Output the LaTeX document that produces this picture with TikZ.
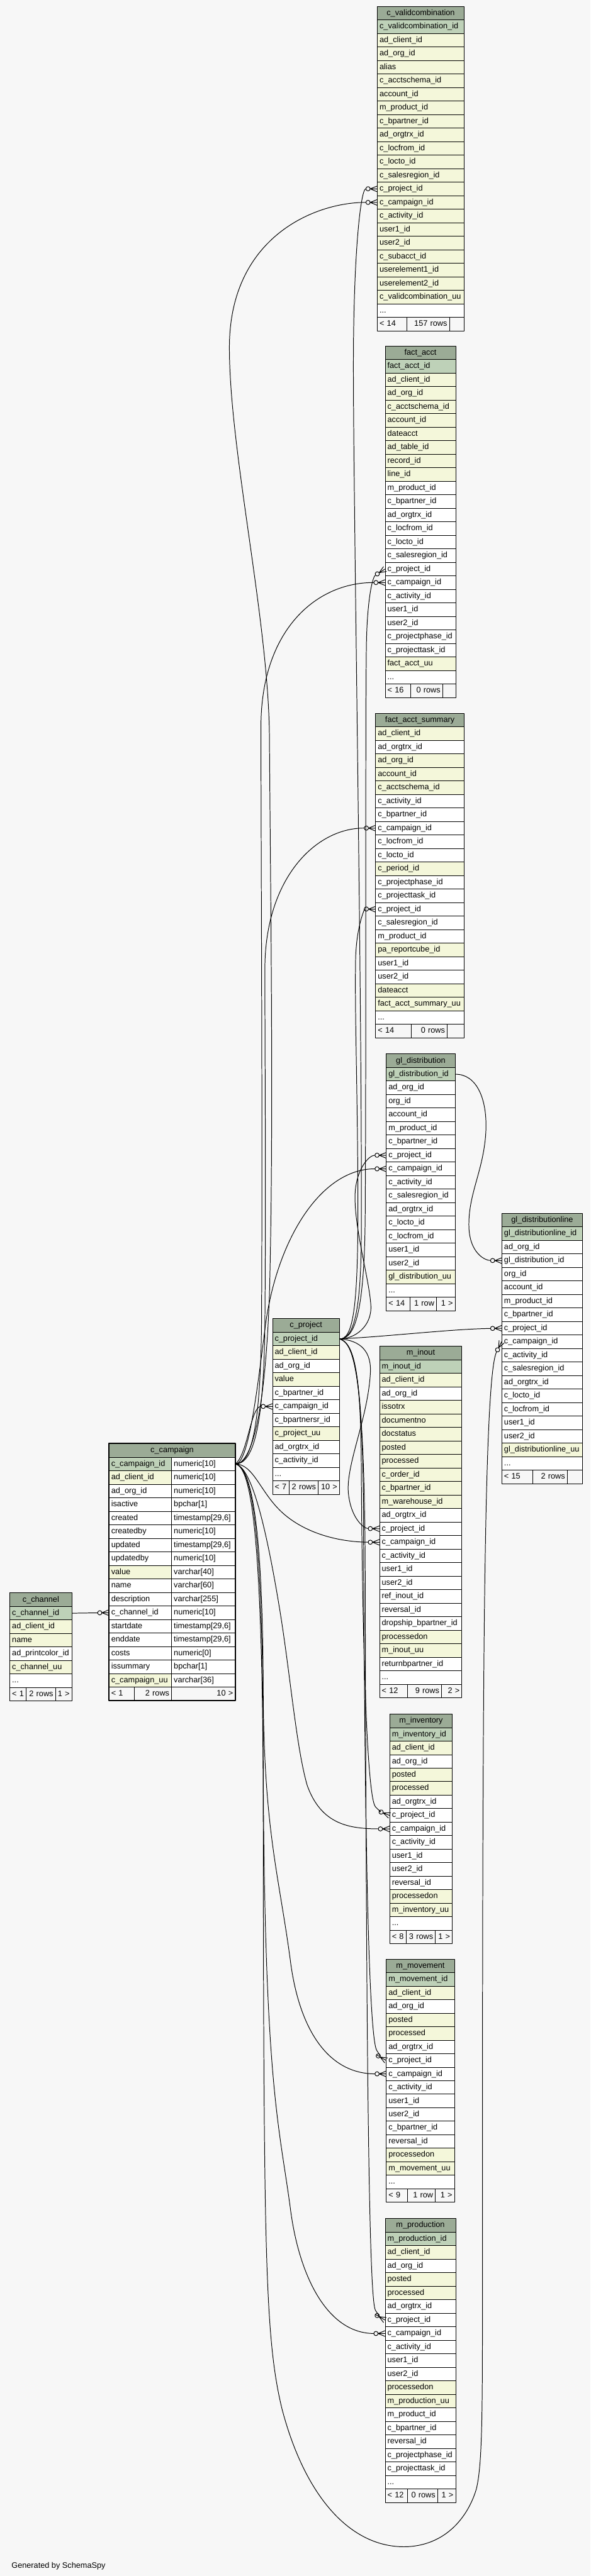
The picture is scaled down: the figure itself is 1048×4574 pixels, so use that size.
\documentclass[tikz,border=0pt]{standalone}
\usepackage{fontspec}
\setmainfont{Liberation Sans}
\usetikzlibrary{arrows.meta}
\definecolor{hdr}{HTML}{9BAB96}
\definecolor{pk}{HTML}{BED1B8}
\definecolor{nn}{HTML}{F4F7DA}
\definecolor{bgc}{HTML}{F7F7F7}

% zero-or-many end: open circle and crow's foot
\pgfdeclarearrow{
  name = crowodot,
  setup code = {
    \pgfarrowssettipend{0pt}
    \pgfarrowssetbackend{-20pt}
    \pgfarrowssetlineend{-19.8pt}
    \pgfarrowshullpoint{0pt}{5pt}
    \pgfarrowshullpoint{0pt}{-5pt}
    \pgfarrowshullpoint{-20pt}{4pt}
    \pgfarrowshullpoint{-20pt}{-4pt}
  },
  drawing code = {
    \pgfpathcircle{\pgfpoint{-16pt}{0pt}}{3.8pt}
    \pgfusepathqstroke
    \pgfpathmoveto{\pgfpoint{-12.2pt}{0pt}}
    \pgfpathlineto{\pgfpoint{0pt}{5pt}}
    \pgfpathmoveto{\pgfpoint{-12.2pt}{0pt}}
    \pgfpathlineto{\pgfpoint{0pt}{0pt}}
    \pgfpathmoveto{\pgfpoint{-12.2pt}{0pt}}
    \pgfpathlineto{\pgfpoint{0pt}{-5pt}}
    \pgfusepathqstroke
  }
}

\newcommand{\dbdots}{...}
% one table: id, title, left, top, width, rows (fill/text)
\newcommand{\dbtable}[6]{%
  \pgfmathsetmacro{\dbtw}{#5-8}%
  \node[thead, minimum width=#5pt] (#1) at (#3,#4) {#2};
  \foreach \rc/\rt [count=\ri] in {#6}{%
    \node[trow, fill=\rc, text width=\dbtw pt] (#1-\ri) at (#3,{#4+24*\ri}) {\rt};
    \xdef\dbn{\ri}}%
}
% footer row: id, left, top, three cell widths, three texts
\newcommand{\dbfoot}[9]{%
  \pgfmathsetmacro{\dbfy}{#3+24*(\dbn+1)}%
  \pgfmathsetmacro{\dbfa}{#4-8}\pgfmathsetmacro{\dbfb}{#5-8}\pgfmathsetmacro{\dbfc}{#6-8}%
  \node[tfoot, text width=\dbfa pt] (#1-f1) at (#2,\dbfy) {#7};
  \node[tfoot, text width=\dbfb pt, align=right] (#1-f2) at ({#2+#4},\dbfy) {#8};
  \node[tfoot, text width=\dbfc pt, align=right] (#1-f3) at ({#2+#4+#5},\dbfy) {#9};
}

\begin{document}
\catcode`\_=12
\begin{tikzpicture}[
  x=1pt, y=-1pt, font=\fontsize{14.2}{17}\selectfont,
  line cap=round, line join=round,
  thead/.style={draw=black, line width=0.9pt, fill=hdr, anchor=north west,
                minimum height=24pt, inner sep=0pt, text height=10.5pt, text depth=3pt},
  trow/.style={draw=black, line width=0.9pt, anchor=north west, minimum height=24pt,
               inner xsep=4pt, inner ysep=0pt, align=left, text height=10.5pt, text depth=3pt},
  tfoot/.style={trow, fill=bgc},
  fk/.style={draw=black, line width=1.1pt, -{crowodot[]}},
]
\useasboundingbox (0,0) rectangle (1048,4574);
\fill[bgc] (0,0) rectangle (1048,4574);

% tables
\dbtable{vc}{c_validcombination}{669}{11}{154}{pk/c_validcombination_id, nn/ad_client_id, nn/ad_org_id,
  nn/alias, nn/c_acctschema_id, nn/account_id, nn/m_product_id, nn/c_bpartner_id, nn/ad_orgtrx_id,
  nn/c_locfrom_id, nn/c_locto_id, nn/c_salesregion_id, nn/c_project_id, nn/c_campaign_id,
  nn/c_activity_id, nn/user1_id, nn/user2_id, nn/c_subacct_id, nn/userelement1_id,
  nn/userelement2_id, nn/c_validcombination_uu, white/\dbdots}
\dbfoot{vc}{669}{11}{52}{76}{26}{< 14}{157 rows}{}

\dbtable{fa}{fact_acct}{683}{614}{125}{pk/fact_acct_id, nn/ad_client_id, nn/ad_org_id,
  nn/c_acctschema_id, nn/account_id, nn/dateacct, nn/ad_table_id, nn/record_id, nn/line_id,
  white/m_product_id, white/c_bpartner_id, white/ad_orgtrx_id, white/c_locfrom_id, white/c_locto_id,
  white/c_salesregion_id, white/c_project_id, white/c_campaign_id, white/c_activity_id,
  white/user1_id, white/user2_id, white/c_projectphase_id, white/c_projecttask_id,
  nn/fact_acct_uu, white/\dbdots}
\dbfoot{fa}{683}{614}{45}{57}{23}{< 16}{0 rows}{}

\dbtable{fas}{fact_acct_summary}{666}{1266}{157}{nn/ad_client_id, white/ad_orgtrx_id, nn/ad_org_id,
  nn/account_id, nn/c_acctschema_id, white/c_activity_id, white/c_bpartner_id, white/c_campaign_id,
  white/c_locfrom_id, white/c_locto_id, nn/c_period_id, white/c_projectphase_id,
  white/c_projecttask_id, white/c_project_id, white/c_salesregion_id, white/m_product_id,
  nn/pa_reportcube_id, white/user1_id, white/user2_id, nn/dateacct, nn/fact_acct_summary_uu, white/\dbdots}
\dbfoot{fas}{666}{1266}{63}{64}{30}{< 14}{0 rows}{}

\dbtable{gd}{gl_distribution}{685}{1871}{122}{pk/gl_distribution_id, white/ad_org_id, white/org_id,
  white/account_id, white/m_product_id, white/c_bpartner_id, white/c_project_id, white/c_campaign_id,
  white/c_activity_id, white/c_salesregion_id, white/ad_orgtrx_id, white/c_locto_id,
  white/c_locfrom_id, white/user1_id, white/user2_id, nn/gl_distribution_uu, white/\dbdots}
\dbfoot{gd}{685}{1871}{42}{47}{33}{< 14}{1 row}{1 >}

\dbtable{gdl}{gl_distributionline}{890}{2154}{143}{pk/gl_distributionline_id, white/ad_org_id,
  white/gl_distribution_id, white/org_id, white/account_id, white/m_product_id, white/c_bpartner_id,
  white/c_project_id, white/c_campaign_id, white/c_activity_id, white/c_salesregion_id,
  white/ad_orgtrx_id, white/c_locto_id, white/c_locfrom_id, white/user1_id, white/user2_id,
  nn/gl_distributionline_uu, white/\dbdots}
\dbfoot{gdl}{890}{2154}{55}{61}{27}{< 15}{2 rows}{}

\dbtable{pj}{c_project}{483}{2341}{119}{pk/c_project_id, nn/ad_client_id, white/ad_org_id, nn/value,
  white/c_bpartner_id, white/c_campaign_id, white/c_bpartnersr_id, nn/c_project_uu,
  white/ad_orgtrx_id, white/c_activity_id, white/\dbdots}
\dbfoot{pj}{483}{2341}{30}{51}{38}{< 7}{2 rows}{10 >}

\dbtable{io}{m_inout}{673}{2390}{146}{pk/m_inout_id, nn/ad_client_id, white/ad_org_id, nn/issotrx,
  nn/documentno, nn/docstatus, nn/posted, nn/processed, nn/c_order_id, nn/c_bpartner_id,
  nn/m_warehouse_id, white/ad_orgtrx_id, white/c_project_id, white/c_campaign_id, white/c_activity_id,
  white/user1_id, white/user2_id, white/ref_inout_id, white/reversal_id, white/dropship_bpartner_id,
  nn/processedon, nn/m_inout_uu, white/returnbpartner_id, white/\dbdots}
\dbfoot{io}{673}{2390}{50}{60}{36}{< 12}{9 rows}{2 >}

\dbtable{inv}{m_inventory}{691}{3043}{111}{pk/m_inventory_id, nn/ad_client_id, white/ad_org_id,
  nn/posted, nn/processed, white/ad_orgtrx_id, white/c_project_id, white/c_campaign_id,
  white/c_activity_id, white/user1_id, white/user2_id, white/reversal_id, nn/processedon,
  nn/m_inventory_uu, white/\dbdots}
\dbfoot{inv}{691}{3043}{29}{52}{30}{< 8}{3 rows}{1 >}

\dbtable{mov}{m_movement}{685}{3478}{121}{pk/m_movement_id, nn/ad_client_id, white/ad_org_id,
  nn/posted, nn/processed, white/ad_orgtrx_id, white/c_project_id, white/c_campaign_id,
  white/c_activity_id, white/user1_id, white/user2_id, white/c_bpartner_id, white/reversal_id,
  nn/processedon, nn/m_movement_uu, white/\dbdots}
\dbfoot{mov}{685}{3478}{38}{49}{34}{< 9}{1 row}{1 >}

\dbtable{prd}{m_production}{683}{3939}{125}{pk/m_production_id, nn/ad_client_id, white/ad_org_id,
  nn/posted, nn/processed, white/ad_orgtrx_id, white/c_project_id, white/c_campaign_id,
  white/c_activity_id, white/user1_id, white/user2_id, nn/processedon, nn/m_production_uu,
  white/m_product_id, white/c_bpartner_id, white/reversal_id, white/c_projectphase_id,
  white/c_projecttask_id, white/\dbdots}
\dbfoot{prd}{683}{3939}{40}{53}{32}{< 12}{0 rows}{1 >}

\dbtable{ch}{c_channel}{17}{2828}{110}{pk/c_channel_id, nn/ad_client_id, nn/name,
  white/ad_printcolor_id, nn/c_channel_uu, white/\dbdots}
\dbfoot{ch}{17}{2828}{29}{52}{29}{< 1}{2 rows}{1 >}

% c_campaign: names and types
\node[thead, minimum width=224pt] (cp) at (193,2563) {c_campaign};
\foreach \rc/\rt/\ty [count=\ri] in {pk/c_campaign_id/numeric[10], nn/ad_client_id/numeric[10],
  white/ad_org_id/numeric[10], white/isactive/bpchar[1], white/created/{timestamp[29,6]},
  white/createdby/numeric[10], white/updated/{timestamp[29,6]}, white/updatedby/numeric[10],
  nn/value/varchar[40], white/name/varchar[60], white/description/varchar[255],
  white/c_channel_id/numeric[10], white/startdate/{timestamp[29,6]}, white/enddate/{timestamp[29,6]},
  white/costs/numeric[0], white/issummary/bpchar[1], nn/c_campaign_uu/varchar[36]}{%
  \node[trow, fill=\rc, text width=103pt] (cpn-\ri) at (193,{2563+24*\ri}) {\rt};
  \node[trow, fill=white, text width=105pt] (cpt-\ri) at (304,{2563+24*\ri}) {\ty};
  \xdef\dbn{\ri}}
\dbfoot{cp}{193}{2563}{45}{66}{113}{< 1}{2 rows}{10 >}
\draw[line width=2.5pt] (cp.north west) rectangle (cp-f3.south east);

\node[anchor=base west] (gen) at (17,4560) {Generated by SchemaSpy};

% c_campaign.c_campaign_id
\draw[fk] (cpt-1.east) .. controls (445,2599) and (470,2520) .. (478,2300)
  .. controls (486,2000) and (480,1600) .. (478,1306)
  .. controls (476,1100) and (407,800) .. (407,617)
  .. controls (407,420) and (560,359) .. (vc-14.west);
\draw[fk] (cpt-1.east) .. controls (445,2599) and (462,2540) .. (464,2350)
  .. controls (466,2000) and (463,1500) .. (463,1290)
  .. controls (463,1120) and (560,1034) .. (fa-17.west);
\draw[fk] (cpt-1.east) .. controls (448,2599) and (468,2540) .. (470,2350)
  .. controls (472,2100) and (470,1900) .. (470,1720)
  .. controls (470,1560) and (560,1470) .. (fas-8.west);
\draw[fk] (cpt-1.east) .. controls (440,2599) and (455,2480) .. (470,2360)
  .. controls (490,2200) and (570,2075) .. (gd-8.west);
\draw[fk] (cpt-1.east) .. controls (440,2580) and (445,2497) .. (pj-6.west);
\draw[fk] (cpt-1.east) .. controls (450,2600) and (462,2650) .. (500,2685)
  .. controls (540,2722) and (600,2738) .. (io-14.west);
\draw[fk] (cpt-1.east) .. controls (445,2605) and (470,2700) .. (495,2850)
  .. controls (515,2970) and (525,3100) .. (545,3170)
  .. controls (570,3240) and (620,3247) .. (inv-8.west);
\draw[fk] (cpt-1.east) .. controls (445,2605) and (466,2700) .. (467,3000)
  .. controls (468,3250) and (495,3330) .. (515,3480)
  .. controls (530,3600) and (580,3682) .. (mov-8.west);
\draw[fk] (cpt-1.east) .. controls (445,2605) and (466,2700) .. (467,3100)
  .. controls (468,3700) and (495,3770) .. (515,3920)
  .. controls (530,4040) and (580,4143) .. (prd-8.west);
\draw[fk] (cpt-1.east) .. controls (443,2605) and (466,2700) .. (467,3200)
  .. controls (468,4000) and (470,4150) .. (500,4276)
  .. controls (540,4430) and (620,4524) .. (720,4522)
  .. controls (790,4520) and (830,4470) .. (845,4420)
  .. controls (855,4380) and (856,4300) .. (856,4100)
  .. controls (856,3100) and (856,2450) .. (gdl-9.west);

% c_project.c_project_id
\draw[fk] (pj-1.east) .. controls (625,2377) and (640,2340) .. (641,2200)
  .. controls (643,1800) and (627,900) .. (627,650)
  .. controls (627,450) and (640,335) .. (vc-13.west);
\draw[fk] (pj-1.east) .. controls (630,2377) and (647,2330) .. (648,2150)
  .. controls (650,1800) and (648,1300) .. (650,1150)
  .. controls (651,1070) and (660,1025) .. (fa-16.west);
\draw[fk] (pj-1.east) .. controls (625,2377) and (635,2330) .. (635,2150)
  .. controls (635,1950) and (629,1800) .. (631,1700)
  .. controls (633,1640) and (648,1614) .. (fas-14.west);
\draw[fk] (pj-1.east) .. controls (630,2377) and (660,2355) .. (658,2318)
  .. controls (655,2270) and (628,2180) .. (630,2120)
  .. controls (632,2075) and (655,2051) .. (gd-7.west);
\draw[fk] (pj-1.east) .. controls (700,2372) and (800,2360) .. (gdl-8.west);
\draw[fk] (pj-1.east) .. controls (640,2380) and (660,2400) .. (657,2440)
  .. controls (652,2520) and (614,2600) .. (618,2650)
  .. controls (622,2695) and (645,2714) .. (io-13.west);
\draw[fk] (pj-1.east) .. controls (625,2385) and (640,2420) .. (641,2600)
  .. controls (643,2950) and (652,3190) .. (666,3208)
  .. controls (672,3215) and (680,3219) .. (inv-7.west);
\draw[fk] (pj-1.east) .. controls (625,2385) and (644,2420) .. (645,2700)
  .. controls (647,3300) and (655,3610) .. (668,3640)
  .. controls (673,3648) and (679,3655) .. (mov-7.west);
\draw[fk] (pj-1.east) .. controls (625,2385) and (647,2420) .. (648,2800)
  .. controls (650,3700) and (655,4080) .. (666,4102)
  .. controls (671,4110) and (677,4116) .. (prd-7.west);

% c_channel and gl_distribution
\draw[fk] (ch-1.east) -- (cpn-12.west);
\draw[fk] (gd-1.east) .. controls (845,1907) and (865,1950) .. (862,2010)
  .. controls (858,2080) and (830,2120) .. (832,2180)
  .. controls (834,2225) and (860,2238) .. (gdl-3.west);
\end{tikzpicture}
\end{document}
